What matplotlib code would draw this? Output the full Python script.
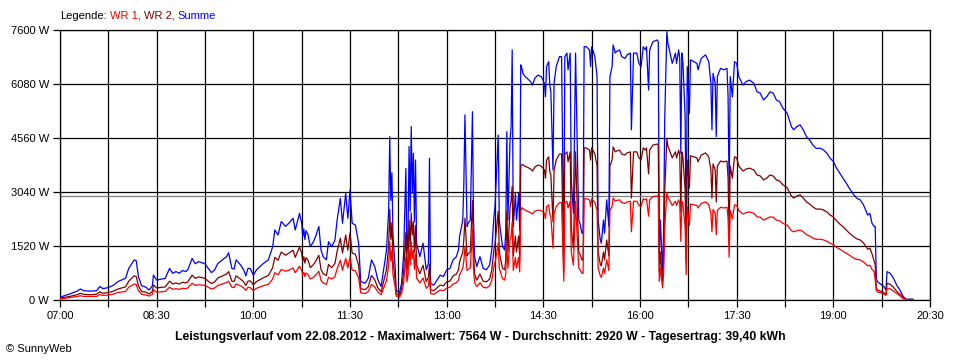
import matplotlib
matplotlib.use("Agg")
import matplotlib.pyplot as plt

plt.rcParams['font.family'] = ['Liberation Sans', 'DejaVu Sans']

# ---------------- data (minutes after 07:00, watts) ----------------
minutes_a = [0, 3, 9, 16, 19, 22, 28, 34, 37, 40,
             45, 50, 54, 61, 64, 67, 69, 71, 73, 76,
             80, 83, 86, 87, 90, 93, 98, 102, 105, 108,
             111, 114, 117, 119, 123, 126, 129, 132, 135, 138,
             141, 144, 147, 152, 155, 157, 160, 162, 164, 168,
             171, 173, 175]
summe_a = [70, 110, 170, 250, 310, 260, 250, 260, 380, 320,
           350, 420, 520, 610, 890, 1030, 1130, 1100, 660, 400,
           360, 280, 400, 700, 560, 580, 610, 890, 750, 800,
           750, 830, 800, 850, 1170, 1020, 1080, 1050, 1020, 890,
           770, 850, 1030, 1150, 1220, 1330, 890, 870, 1130, 990,
           850, 680, 890]
wr1_a = [30, 40, 70, 100, 120, 100, 100, 100, 150, 130,
         140, 170, 210, 240, 360, 410, 450, 440, 260, 160,
         140, 110, 160, 280, 220, 230, 240, 360, 300, 320,
         300, 330, 320, 340, 470, 410, 430, 420, 410, 360,
         310, 340, 410, 460, 490, 530, 360, 350, 450, 400,
         340, 270, 360]
wr2_a = [40, 70, 100, 150, 190, 160, 150, 160, 230, 190,
         210, 250, 310, 370, 530, 620, 680, 660, 400, 240,
         220, 170, 240, 420, 340, 350, 370, 530, 450, 480,
         450, 500, 480, 510, 700, 610, 650, 630, 610, 530,
         460, 510, 620, 690, 730, 800, 530, 520, 680, 590,
         510, 410, 530]

minutes_b = [177, 180, 183, 189, 194, 198, 200, 203, 206, 210,
             213, 217, 219, 223, 225, 226, 227, 228, 229, 231,
             233, 236, 238, 241, 243, 245, 248, 250, 253, 256,
             258, 261, 263, 266, 268, 270, 272, 275, 278, 280,
             284, 287, 290, 293, 296, 299, 304, 306, 307, 308,
             309, 310, 312, 313, 316, 318, 320, 322, 323, 324,
             325, 326, 327, 328, 329, 330, 331, 332, 335, 338,
             341, 343, 344, 345, 348, 352]
summe_b = [890, 700, 850, 1020, 1130, 1500, 1970, 1830, 2210, 2070,
           2160, 2300, 1970, 2440, 2160, 1790, 2000, 1700, 1950, 1830,
           1500, 1640, 1790, 2070, 1410, 1220, 1130, 1640, 1500, 1690,
           2250, 2860, 2160, 3000, 2300, 3100, 2160, 2110, 1600, 520,
           470, 610, 1130, 940, 560, 380, 1410, 2530, 4600, 2800,
           3580, 1830, 940, 280, 190, 470, 1320, 3700, 1320, 1800,
           4320, 2500, 4880, 3000, 4130, 2200, 3940, 1600, 1220, 1600,
           850, 1030, 3990, 470, 420, 610]
wr1_b = [350, 270, 330, 400, 440, 590, 770, 710, 860, 810,
         840, 900, 770, 950, 840, 700, 780, 660, 760, 710,
         590, 640, 700, 810, 550, 480, 440, 640, 590, 660,
         880, 1120, 840, 1170, 900, 1210, 840, 820, 620, 200,
         180, 240, 440, 370, 220, 150, 550, 990, 1650, 1090,
         1400, 710, 370, 110, 70, 180, 510, 1200, 510, 700,
         1450, 980, 1650, 1170, 1400, 860, 1300, 620, 480, 620,
         330, 400, 700, 180, 160, 240]
wr2_b = [540, 430, 520, 620, 690, 910, 1200, 1120, 1350, 1260,
         1320, 1400, 1200, 1490, 1320, 1090, 1220, 1040, 1190, 1120,
         910, 1000, 1090, 1260, 860, 740, 690, 1000, 910, 1030,
         1370, 1740, 1320, 1830, 1400, 1890, 1320, 1290, 980, 320,
         290, 370, 690, 570, 340, 230, 860, 1540, 2550, 1710,
         2180, 1120, 570, 170, 120, 290, 810, 1900, 810, 1100,
         2250, 1520, 2450, 1830, 2200, 1340, 2100, 980, 740, 980,
         520, 630, 1000, 290, 260, 370]

minutes_c = [354, 357, 360, 363, 366, 369, 371, 372, 375, 376,
             377, 379, 380, 382, 384, 385, 386, 388, 390, 391,
             394, 397, 400, 402, 404, 405, 407, 408, 409, 410,
             412, 414, 415, 416, 417, 419, 420, 421, 422, 424,
             425, 427, 428, 429, 430, 431, 433, 435, 438, 440,
             442, 445, 448, 451, 452, 453, 455, 456, 457, 459,
             460, 462, 465, 467, 469, 470, 472, 473, 475, 476,
             478, 479, 480, 482, 483, 484, 486, 487, 488, 490,
             493, 494, 495, 497, 498, 500, 501, 503, 504, 506,
             507, 509, 511, 512, 514, 515, 517, 518, 521]
summe_c = [700, 660, 850, 890, 1130, 1220, 1410, 1780, 2250, 3280,
           5210, 2070, 2160, 2250, 5300, 2250, 1220, 940, 1130, 1220,
           890, 850, 990, 1410, 2350, 2630, 3940, 4640, 2250, 1970,
           1500, 1410, 1880, 4740, 2250, 4500, 4880, 7040, 2070, 3000,
           2250, 3000, 1970, 6620, 6520, 6380, 6290, 6240, 6150, 6050,
           6240, 6330, 6290, 6100, 5720, 6570, 6710, 6050, 5860, 3660,
           6100, 6570, 6850, 6850, 1320, 6850, 6950, 6480, 6950, 3380,
           2440, 4790, 6950, 3660, 2250, 2160, 1880, 1880, 7130, 7130,
           7040, 6570, 7130, 6950, 6850, 6290, 2250, 1690, 1600, 2250,
           1880, 2820, 2070, 6290, 6570, 7180, 6950, 6990, 7040]
wr1_c = [280, 260, 340, 360, 450, 490, 560, 710, 900, 1100,
         1500, 830, 860, 900, 2000, 900, 490, 380, 450, 490,
         360, 340, 400, 560, 940, 1050, 1400, 1600, 900, 790,
         600, 560, 750, 1600, 900, 1700, 1800, 2200, 830, 1200,
         900, 1200, 790, 2500, 2600, 2570, 2530, 2500, 2460, 2420,
         2500, 2530, 2520, 2440, 2290, 2630, 2680, 2420, 2340, 1460,
         2440, 2630, 2740, 2740, 530, 2740, 2780, 2590, 2780, 1350,
         980, 1920, 2780, 1460, 900, 860, 750, 750, 2850, 2850,
         2820, 2630, 2850, 2780, 2740, 2520, 900, 680, 640, 900,
         750, 1130, 830, 2520, 2630, 2870, 2780, 2800, 2820]
wr2_c = [420, 400, 510, 530, 680, 730, 850, 1070, 1350, 1700,
         2300, 1240, 1300, 1350, 2800, 1350, 730, 560, 680, 730,
         530, 510, 590, 850, 1410, 1580, 2200, 2500, 1350, 1180,
         900, 850, 1130, 2500, 1350, 2600, 2800, 3200, 1240, 1800,
         1350, 1800, 1180, 3800, 3800, 3810, 3760, 3740, 3690, 3630,
         3740, 3800, 3770, 3660, 3430, 3940, 4030, 3630, 3520, 2200,
         3660, 3940, 4110, 4110, 790, 4110, 4170, 3890, 4170, 2030,
         1460, 2870, 4170, 2200, 1350, 1300, 1130, 1130, 4280, 4280,
         4220, 3940, 4280, 4170, 4110, 3770, 1350, 1010, 960, 1350,
         1130, 1690, 1240, 3770, 3940, 4310, 4170, 4190, 4220]

minutes_d = [523, 526, 528, 531, 532, 534, 537, 539, 541, 543,
             545, 546, 548, 549, 552, 556, 557, 558, 559, 560,
             561, 562, 563, 565, 566, 568, 570, 571, 573, 574,
             576, 577, 578, 579, 580, 582, 583, 584, 586, 587,
             590, 593, 594, 597, 601, 604, 606, 607, 608, 610,
             611, 612, 615, 618, 621, 622, 623, 624, 626, 628,
             630, 632, 635, 636, 639, 642, 646, 649, 652, 655,
             658, 661, 664, 667]
summe_d = [6850, 6800, 6900, 6950, 4790, 6950, 6950, 6660, 6570, 7130,
           7040, 7130, 5910, 7040, 7270, 7320, 7270, 1320, 2250, 1500,
           850, 1880, 5070, 7564, 7220, 6950, 6660, 6760, 6950, 6660,
           7040, 6800, 4130, 6950, 6660, 5160, 1780, 6570, 5250, 6760,
           6710, 6660, 6480, 6800, 6900, 6710, 6100, 4790, 6380, 6100,
           4600, 6290, 6520, 6480, 6520, 5720, 3000, 6290, 5720, 6710,
           6660, 6290, 6100, 6050, 6150, 6190, 6100, 5860, 5820, 5630,
           5720, 5860, 5820, 5630]
wr1_d = [2740, 2720, 2760, 2780, 1920, 2780, 2780, 2660, 2630, 2850,
         2820, 2850, 2360, 2820, 2910, 2930, 2910, 530, 900, 600,
         340, 750, 2030, 3024, 2890, 2780, 2660, 2700, 2780, 2660,
         2820, 2720, 1650, 2780, 2660, 2060, 710, 2630, 2100, 2700,
         2680, 2660, 2590, 2720, 2760, 2680, 2440, 1920, 2550, 2440,
         1840, 2520, 2610, 2590, 2610, 2290, 1200, 2520, 2290, 2680,
         2660, 2520, 2440, 2420, 2460, 2480, 2440, 2340, 2330, 2250,
         2290, 2340, 2330, 2250]
wr2_d = [4110, 4080, 4140, 4170, 2870, 4170, 4170, 4000, 3940, 4280,
         4220, 4280, 3550, 4220, 4360, 4390, 4360, 790, 1350, 900,
         510, 1130, 3040, 4540, 4330, 4170, 4000, 4060, 4170, 4000,
         4220, 4080, 2480, 4170, 4000, 3100, 1070, 3940, 3150, 4060,
         4030, 4000, 3890, 4080, 4140, 4030, 3660, 2870, 3830, 3660,
         2760, 3770, 3910, 3890, 3910, 3430, 1800, 3770, 3430, 4030,
         4000, 3770, 3660, 3630, 3690, 3710, 3660, 3520, 3490, 3380,
         3430, 3520, 3490, 3380]

minutes_e = [670, 673, 677, 679, 681, 683, 686, 689, 692, 695,
             698, 701, 704, 708, 711, 714, 717, 720, 723, 726,
             729, 732, 735, 739, 742, 745, 748, 750, 752, 754,
             756, 758, 759, 760, 761, 763, 767, 769, 770, 773,
             776, 779, 782, 785, 788, 791, 794]
summe_e = [5580, 5400, 5260, 5070, 4880, 4790, 4880, 4930, 4790, 4600,
           4500, 4360, 4270, 4270, 4220, 4130, 3990, 3900, 3710, 3570,
           3430, 3290, 3140, 2960, 2860, 2820, 2680, 2540, 2390, 2440,
           2160, 2070, 2070, 600, 520, 470, 380, 280, 800, 750,
           610, 420, 280, 100, 20, 20, 20]
wr1_e = [2230, 2160, 2100, 2030, 1950, 1920, 1950, 1970, 1920, 1840,
         1800, 1740, 1710, 1710, 1690, 1650, 1600, 1560, 1480, 1430,
         1370, 1320, 1260, 1180, 1140, 1130, 1070, 1020, 960, 980,
         860, 800, 560, 260, 230, 210, 170, 130, 330, 310,
         250, 180, 120, 40, 10, 0, 0]
wr2_e = [3350, 3240, 3160, 3040, 2930, 2870, 2930, 2960, 2870, 2760,
         2700, 2620, 2560, 2560, 2530, 2480, 2390, 2340, 2230, 2140,
         2060, 1970, 1880, 1780, 1720, 1690, 1610, 1520, 1430, 1460,
         1300, 1100, 990, 340, 290, 260, 210, 150, 470, 440,
         360, 240, 160, 60, 10, 20, 20]

average_w = 2920
y_ticks = [0, 1520, 3040, 4560, 6080, 7600]
x_tick_labels = ["07:00", "08:30", "10:00", "11:30", "13:00",
                 "14:30", "16:00", "17:30", "19:00", "20:30"]

minutes = minutes_a + minutes_b + minutes_c + minutes_d + minutes_e
summe = summe_a + summe_b + summe_c + summe_d + summe_e
wr1 = wr1_a + wr1_b + wr1_c + wr1_d + wr1_e
wr2 = wr2_a + wr2_b + wr2_c + wr2_d + wr2_e

# ---------------- figure ----------------
W, H = 960, 360
fig = plt.figure(figsize=(W / 100, H / 100), dpi=100)
fig.patch.set_facecolor('white')
ax = fig.add_axes([60 / W, 60 / H, 870 / W, 270 / H])

ax.plot(minutes, summe, color='#0000FF', lw=0.9, zorder=3)
ax.plot(minutes, wr2, color='#800000', lw=0.9, zorder=4)
ax.plot(minutes, wr1, color='#FF0000', lw=0.9, zorder=5)
ax.axhline(average_w, color='#808080', lw=0.9, zorder=2)

ax.set_xlim(0, 810)
ax.set_ylim(0, 7600)
ax.set_xticks(range(0, 811, 45))
labels = []
for i in range(0, 811, 45):
    labels.append(x_tick_labels[i // 90] if i % 90 == 0 else "")
ax.set_xticklabels(labels)
ax.set_yticks(y_ticks)
ax.set_yticklabels([f"{v} W" for v in y_ticks])
ax.grid(True, color='black', lw=0.9, zorder=1)
ax.set_axisbelow(True)
ax.tick_params(direction='out', length=5, width=0.9, color='black',
               labelsize=8, pad=3)
for s in ax.spines.values():
    s.set_linewidth(0.9)
    s.set_color('black')

# legend line with coloured words
fig.canvas.draw()
r = fig.canvas.get_renderer()
parts = [("Legende:", 'black'), ("WR 1,", '#FF0000'),
         ("WR 2,", '#800000'), ("Summe", '#0000FF')]
x = 60
for txt, col in parts:
    t = fig.text(x / W, 1 - 16 / H, txt, color=col, fontsize=8,
                 ha='left', va='center')
    bb = t.get_window_extent(renderer=r)
    x = bb.x1 + 3

fig.text(0.5, 1 - 337 / H,
         "Leistungsverlauf vom 22.08.2012 - Maximalwert: 7564 W - "
         "Durchschnitt: 2920 W - Tagesertrag: 39,40 kWh",
         ha='center', va='center', fontsize=8.8, fontweight='bold')
fig.text(6 / W, 1 - 349 / H, "© SunnyWeb", ha='left', va='center',
         fontsize=8)

fig.savefig("out.png", dpi=100)
